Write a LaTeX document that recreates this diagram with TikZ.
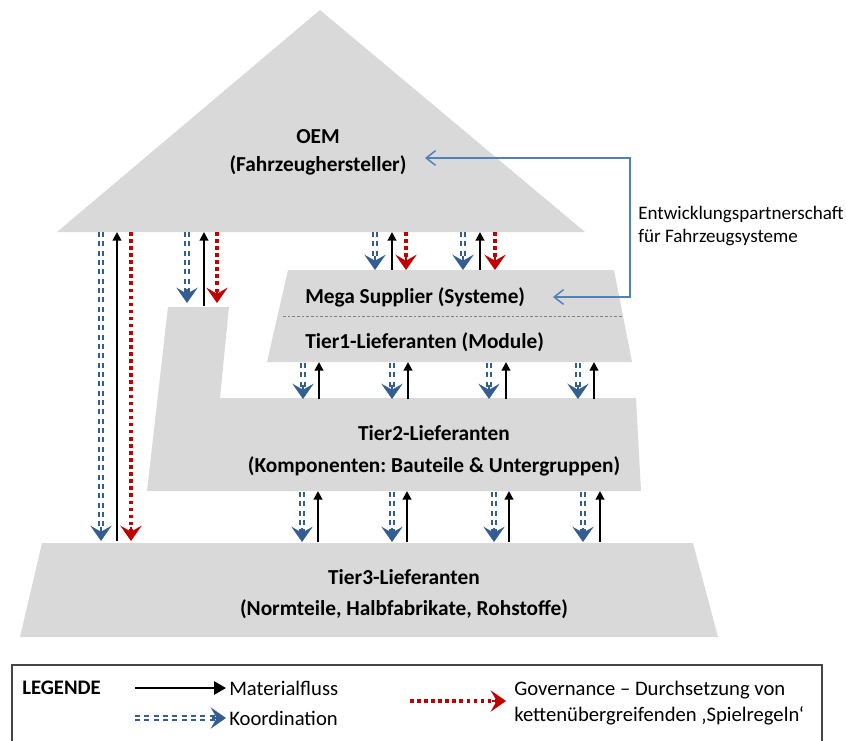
\documentclass[tikz,border=0pt]{standalone}
\usepackage{fontspec}
\setmainfont{Carlito}
\usetikzlibrary{arrows.meta}
\definecolor{levelgray}{RGB}{217,217,217}
\definecolor{coordblue}{RGB}{52,94,146}
\definecolor{govred}{RGB}{192,0,0}
\definecolor{linkblue}{RGB}{79,129,189}
\definecolor{framegray}{RGB}{70,70,70}
\frenchspacing

\begin{document}
\begin{tikzpicture}[x=0.75pt, y=-0.75pt,
  level/.style={fill=levelgray, draw=none},
  lbl/.style={font=\bfseries\fontsize{16}{21}\selectfont, align=center, inner sep=0pt},
  note/.style={font=\fontsize{14.3}{17.25}\selectfont, align=left, inner sep=0pt, anchor=west},
  legtext/.style={font=\fontsize{15.5}{19.5}\selectfont, align=left, inner sep=0pt, anchor=west},
  matflow/.style={draw=black, line width=1.5pt, -{Triangle[length=6.5pt,width=6.5pt]}},
  legmat/.style={draw=black, line width=1.5pt, -{Triangle[length=9pt,width=10pt]}},
  coordline/.style={draw=coordblue, line width=1.25pt, double=white, double distance=1.5pt,
    dash pattern=on 3.8pt off 3.2pt, shorten >=7pt},
  coordtip/.style={draw=coordblue, line width=1.3pt, line join=round,
    -{Stealth[length=11.5pt,width=16pt,inset=4.5pt]}},
  govline/.style={draw=govred, line width=2.7pt, dash pattern=on 2.7pt off 2.6pt, shorten >=7pt},
  govtip/.style={draw=govred, line width=1.3pt, line join=round,
    -{Stealth[length=11.5pt,width=16pt,inset=4.5pt]}},
  devlink/.style={draw=linkblue, line width=1.1pt,
    {Straight Barb[length=7pt,width=11pt]}-{Straight Barb[length=7pt,width=11pt]}},
  sep/.style={draw=gray, line width=0.6pt, dash pattern=on 2pt off 1.5pt}
]
\useasboundingbox (0,0) rectangle (846,740);

% levels of the supplier pyramid
\fill[level] (57,232) -- (320,10) -- (585,232) -- cycle;
\fill[level] (288,270) -- (614,270) -- (632,362) -- (267,362) -- cycle;
\fill[level] (168,307) -- (229,307) -- (220,398) -- (636,398) -- (641,491)
  -- (147,491) -- cycle;
\fill[level] (42,543) -- (693,543) -- (718,637) -- (20,637) -- cycle;
\draw[sep] (283,316) -- (623,316);

% labels
\node[lbl] (oem) at (318,152) {OEM\\(Fahrzeughersteller)};
\node[lbl, anchor=west] (mega) at (305,297) {Mega Supplier (Systeme)};
\node[lbl, anchor=west] (tier1) at (305,342) {Tier1-Lieferanten (Module)};
\node[lbl, font=\bfseries\fontsize{16}{24}\selectfont] (tier2) at (434,451)
  {Tier2-Lieferanten\\(Komponenten: Bauteile \& Untergruppen)};
\node[lbl, font=\bfseries\fontsize{16}{23.25}\selectfont] (tier3) at (404,594)
  {Tier3-Lieferanten\\(Normteile, Halbfabrikate, Rohstoffe)};

% development partnership link
\coordinate (devoem) at (425,158);
\coordinate (devmega) at (553,297);
\coordinate (devturn) at (630,158);
\draw[devlink] (devmega) -| (devturn) -- (devoem);
\node[note] (devnote) at (638,226) {Entwicklungspartnerschaft\\für Fahrzeugsysteme};

% OEM: coordination, material flow and governance arrows
\foreach \xb/\xk/\xr/\yt/\yb/\yk [count=\i] in
  {101/117/131/232/541/541, 187/204/217/232/303/306,
   375/392/406/232/270/270, 463/480/495/232/270/270} {
  \coordinate (cb\i-t) at (\xb,\yt);
  \coordinate (cb\i-b) at (\xb,\yb);
  \coordinate (mk\i-t) at (\xk,\yt);
  \coordinate (mk\i-b) at (\xk,\yk);
  \coordinate (gr\i-t) at (\xr,\yt);
  \coordinate (gr\i-b) at (\xr,\yb);
  \draw[coordline] (cb\i-t) -- (cb\i-b);
  \draw[coordtip] (cb\i-b) ++(0,-14) -- (cb\i-b);
  \draw[matflow] (mk\i-b) -- (mk\i-t);
  \draw[govline] (gr\i-t) -- (gr\i-b);
  \draw[govtip] (gr\i-b) ++(0,-14) -- (gr\i-b);
}

% between Tier1 and Tier2
\foreach \xb/\xk [count=\i] in {303/319, 392/408, 489/506, 578/594} {
  \coordinate (ca\i-t) at (\xb,363);
  \coordinate (ca\i-b) at (\xb,399);
  \coordinate (ma\i-t) at (\xk,362);
  \coordinate (ma\i-b) at (\xk,399);
  \draw[coordline] (ca\i-t) -- (ca\i-b);
  \draw[coordtip] (ca\i-b) ++(0,-14) -- (ca\i-b);
  \draw[matflow] (ma\i-b) -- (ma\i-t);
}

% between Tier2 and Tier3
\foreach \xb/\xk [count=\i] in {302/318, 392/407, 494/509, 583/600} {
  \coordinate (cc\i-t) at (\xb,492);
  \coordinate (cc\i-b) at (\xb,542);
  \coordinate (mc\i-t) at (\xk,491);
  \coordinate (mc\i-b) at (\xk,542);
  \draw[coordline] (cc\i-t) -- (cc\i-b);
  \draw[coordtip] (cc\i-b) ++(0,-14) -- (cc\i-b);
  \draw[matflow] (mc\i-b) -- (mc\i-t);
}

% legend
\draw[draw=framegray, line width=1.1pt] (12,665) rectangle (822,750);
\node[legtext, font=\bfseries\fontsize{15.5}{19.5}\selectfont] (legend) at (22,688) {LEGENDE};
\coordinate (lm-a) at (135,688);
\coordinate (lm-b) at (226,688);
\draw[legmat] (lm-a) -- (lm-b);
\node[legtext] (lm-t) at (229,688) {Materialfluss};
\coordinate (lk-a) at (135,718);
\coordinate (lk-b) at (226,718);
\draw[coordline] (lk-a) -- (lk-b);
\draw[coordtip] (lk-b) ++(-14,0) -- (lk-b);
\node[legtext] (lk-t) at (229,718) {Koordination};
\coordinate (lg-a) at (410,701);
\coordinate (lg-b) at (506,701);
\draw[govline] (lg-a) -- (lg-b);
\draw[govtip] (lg-b) ++(-14,0) -- (lg-b);
\node[legtext] (lg-t) at (514,703)
  {Governance – Durchsetzung von\\kettenübergreifenden ‚Spielregeln‘};
\end{tikzpicture}
\end{document}
